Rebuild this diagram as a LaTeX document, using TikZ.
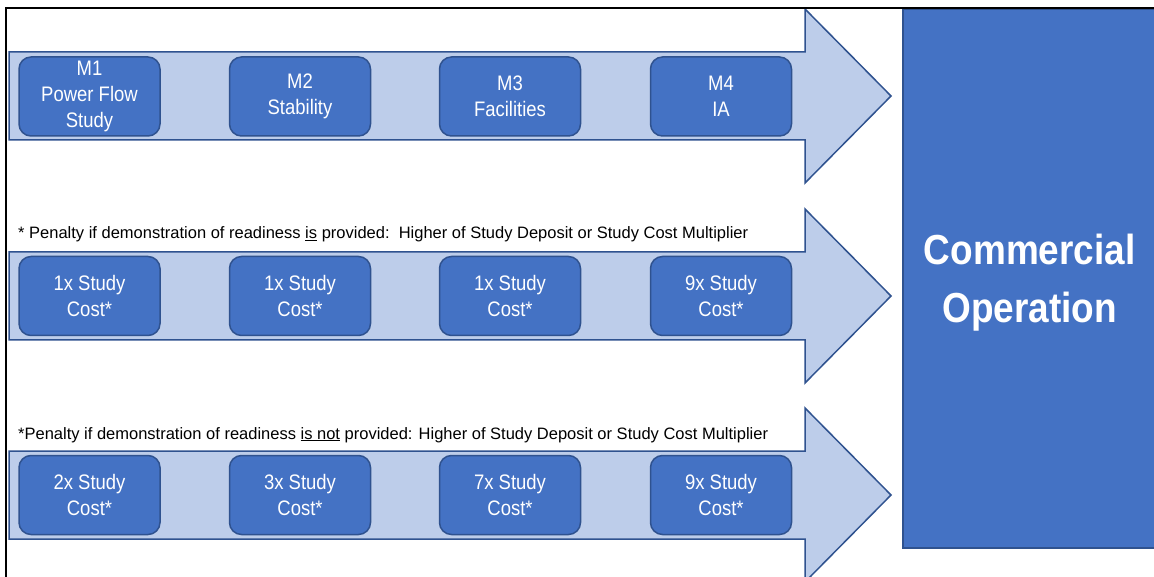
\documentclass[tikz,border=0pt]{standalone}
\usepackage{fontspec}
\setmainfont[FakeStretch=0.88]{Liberation Sans}
\newfontfamily\notefont{Liberation Sans}
\usetikzlibrary{positioning}
\definecolor{obox}{HTML}{4472C4}
\definecolor{oedge}{HTML}{2F528F}
\definecolor{olite}{HTML}{BDCDEA}

\begin{document}
\begin{tikzpicture}[x=1pt,y=-1pt,stage/.style={draw=oedge,fill=obox,line width=1.5pt,rounded corners=12pt,minimum width=141pt,minimum height=79pt,inner sep=0pt,align=center,text=white,font=\fontsize{21}{26}\selectfont},band/.style={draw=oedge,fill=olite,line width=1.5pt},note/.style={anchor=base west,inner sep=0pt,font=\notefont\fontsize{16.5}{19}\selectfont}]
\useasboundingbox (0,0) rectangle (1154,577);
\clip (0,0) rectangle (1154,577);
% three milestone bands
\foreach \yc in {96,296,495}
  \draw[band] (9,\yc-44) -- (805,\yc-44) -- (805,\yc-87) -- (891,\yc) -- (805,\yc+87) -- (805,\yc+44) -- (9,\yc+44) -- cycle;
\node[stage] (m1) at (89.5,96.5) {M1\\Power Flow\\Study};
\node[stage] (m2) at (300,96.5) {M2\\Stability};
\node[stage] (m3) at (510,96.5) {M3\\Facilities};
\node[stage] (m4) at (721,96.5) {M4\\IA};
\node[note] (n1) at (18,239) {* Penalty if demonstration of readiness \underline{is} provided:\ \ Higher of Study Deposit or Study Cost Multiplier};
\node[stage] (a1) at (89.5,296) {1x Study\\Cost*};
\node[stage] (a2) at (300,296) {1x Study\\Cost*};
\node[stage] (a3) at (510,296) {1x Study\\Cost*};
\node[stage] (a4) at (721,296) {9x Study\\Cost*};
\node[note] (n2) at (18,439) {*Penalty if demonstration of readiness \underline{is not} provided: Higher of Study Deposit or Study Cost Multiplier};
\node[stage] (b1) at (89.5,495) {2x Study\\Cost*};
\node[stage] (b2) at (300,495) {3x Study\\Cost*};
\node[stage] (b3) at (510,495) {7x Study\\Cost*};
\node[stage] (b4) at (721,495) {9x Study\\Cost*};
% end state
\node[draw=oedge,fill=obox,line width=1.5pt,anchor=north west,minimum width=254pt,minimum height=538pt] (co) at (902,9) {};
\node[align=center,text=white,font=\fontsize{42}{58}\selectfont\bfseries] (cotext) at ([yshift=-4pt]co.center) {Commercial\\Operation};
\draw[line width=2pt] (6,577) -- (6,8) -- (1154,8);
\end{tikzpicture}
\end{document}
